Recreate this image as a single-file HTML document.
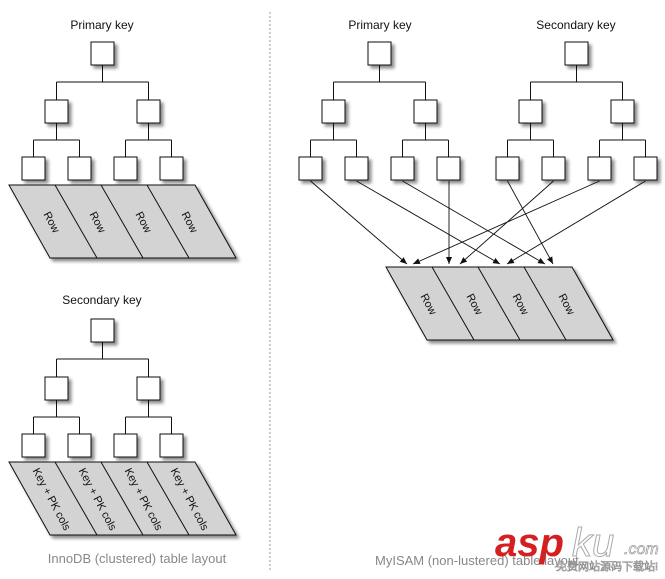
<!DOCTYPE html>
<html><head><meta charset="utf-8"><style>
html,body{margin:0;padding:0;background:#fff;}
svg{display:block;}
text{font-family:"Liberation Sans",sans-serif;}
</style></head><body>
<svg width="665" height="579" viewBox="0 0 665 579" xmlns="http://www.w3.org/2000/svg">
<defs>
<filter id="sh" x="-30%" y="-30%" width="180%" height="180%"><feDropShadow dx="3" dy="3" stdDeviation="1.5" flood-color="#000" flood-opacity="0.45"/></filter>
<marker id="ah" markerWidth="8" markerHeight="8" refX="7" refY="3" orient="auto" markerUnits="userSpaceOnUse"><path d="M0,0 L7,3 L0,6 z" fill="#111"/></marker>
<g id="tree">
<g fill="none" stroke="#111" stroke-width="1">
<path d="M102.5,65V82M56.5,82H148.5M56.5,82V100M148.5,82V100"/>
<path d="M56.5,123V140M33.5,140H79.5M33.5,140V157M79.5,140V157"/>
<path d="M148.5,123V140M125.5,140H171.5M125.5,140V157M171.5,140V157"/>
</g>
<g fill="#fff" stroke="#111" stroke-width="1" filter="url(#sh)">
<rect x="91" y="42" width="23" height="23"/>
<rect x="45" y="100" width="23" height="23"/>
<rect x="137" y="100" width="23" height="23"/>
<rect x="22" y="157" width="23" height="23"/>
<rect x="68" y="157" width="23" height="23"/>
<rect x="114" y="157" width="23" height="23"/>
<rect x="160" y="157" width="23" height="23"/>
</g>
</g>
<g id="para">
<path d="M9,185H195L236,258H50Z" fill="#d3d3d3" stroke="#111" stroke-width="1" filter="url(#sh)"/>
<path d="M55,185L97,258M101,185L143,258M147,185L189,258" stroke="#111" stroke-width="1" fill="none"/>
</g>
<g id="rows" font-size="11" fill="#111" text-anchor="middle">
<text transform="translate(52,222) rotate(62)" dy="4">Row</text>
<text transform="translate(98,222) rotate(62)" dy="4">Row</text>
<text transform="translate(144,222) rotate(62)" dy="4">Row</text>
<text transform="translate(190,222) rotate(62)" dy="4">Row</text>
</g>
</defs>

<!-- divider -->
<line x1="270" y1="12" x2="270" y2="572" stroke="#999" stroke-width="1" stroke-dasharray="2,2"/>

<!-- top-left InnoDB primary -->
<text x="102" y="29" font-size="12" text-anchor="middle" fill="#111">Primary key</text>
<use href="#tree"/>
<use href="#para"/>
<use href="#rows"/>

<!-- bottom-left InnoDB secondary -->
<text x="102" y="304" font-size="12" text-anchor="middle" fill="#111">Secondary key</text>
<g transform="translate(0,277)">
<use href="#tree"/>
<use href="#para"/>
<g font-size="11" fill="#111" text-anchor="middle">
<text transform="translate(52,222) rotate(62)" dy="4">Key + PK cols</text>
<text transform="translate(98,222) rotate(62)" dy="4">Key + PK cols</text>
<text transform="translate(144,222) rotate(62)" dy="4">Key + PK cols</text>
<text transform="translate(190,222) rotate(62)" dy="4">Key + PK cols</text>
</g>
</g>
<text x="137" y="563" font-size="13" text-anchor="middle" fill="#888">InnoDB (clustered) table layout</text>

<!-- right MyISAM -->
<text x="380" y="29" font-size="12" text-anchor="middle" fill="#111">Primary key</text>
<text x="576" y="29" font-size="12" text-anchor="middle" fill="#111">Secondary key</text>
<g transform="translate(277,0)"><use href="#tree"/></g>
<g transform="translate(474,0)"><use href="#tree"/></g>
<g transform="translate(377,82)"><use href="#para"/><use href="#rows"/></g>

<g stroke="#111" stroke-width="0.9" fill="none" marker-end="url(#ah)">
<line x1="310.5" y1="181" x2="407" y2="264"/>
<line x1="356.5" y1="181" x2="500" y2="264"/>
<line x1="402.5" y1="181" x2="545" y2="264"/>
<line x1="449" y1="181" x2="449" y2="264"/>
<line x1="507.5" y1="181" x2="553" y2="264"/>
<line x1="553.5" y1="181" x2="460" y2="264"/>
<line x1="599.5" y1="181" x2="413" y2="264"/>
<line x1="645.5" y1="181" x2="507" y2="264"/>
</g>

<text x="375" y="565" font-size="13" fill="#888">MyISAM (non-lustered) table layout</text>

<!-- watermark -->
<text x="495" y="556" font-size="40" font-weight="bold" font-style="italic" fill="#d42020">asp</text>
<text x="572" y="556" font-size="40" fill="#fff" stroke="#aaa" stroke-width="1" font-style="italic">ku</text>
<text x="624" y="554" font-size="16" fill="#fff" stroke="#999" stroke-width="0.7" font-style="italic">.com</text>
<text x="556" y="570" font-size="11" fill="#fff" stroke="#888" stroke-width="0.6" font-family="'Liberation Sans','Noto Sans CJK SC',sans-serif">免费网站源码下载站!</text>
</svg>
</body></html>
